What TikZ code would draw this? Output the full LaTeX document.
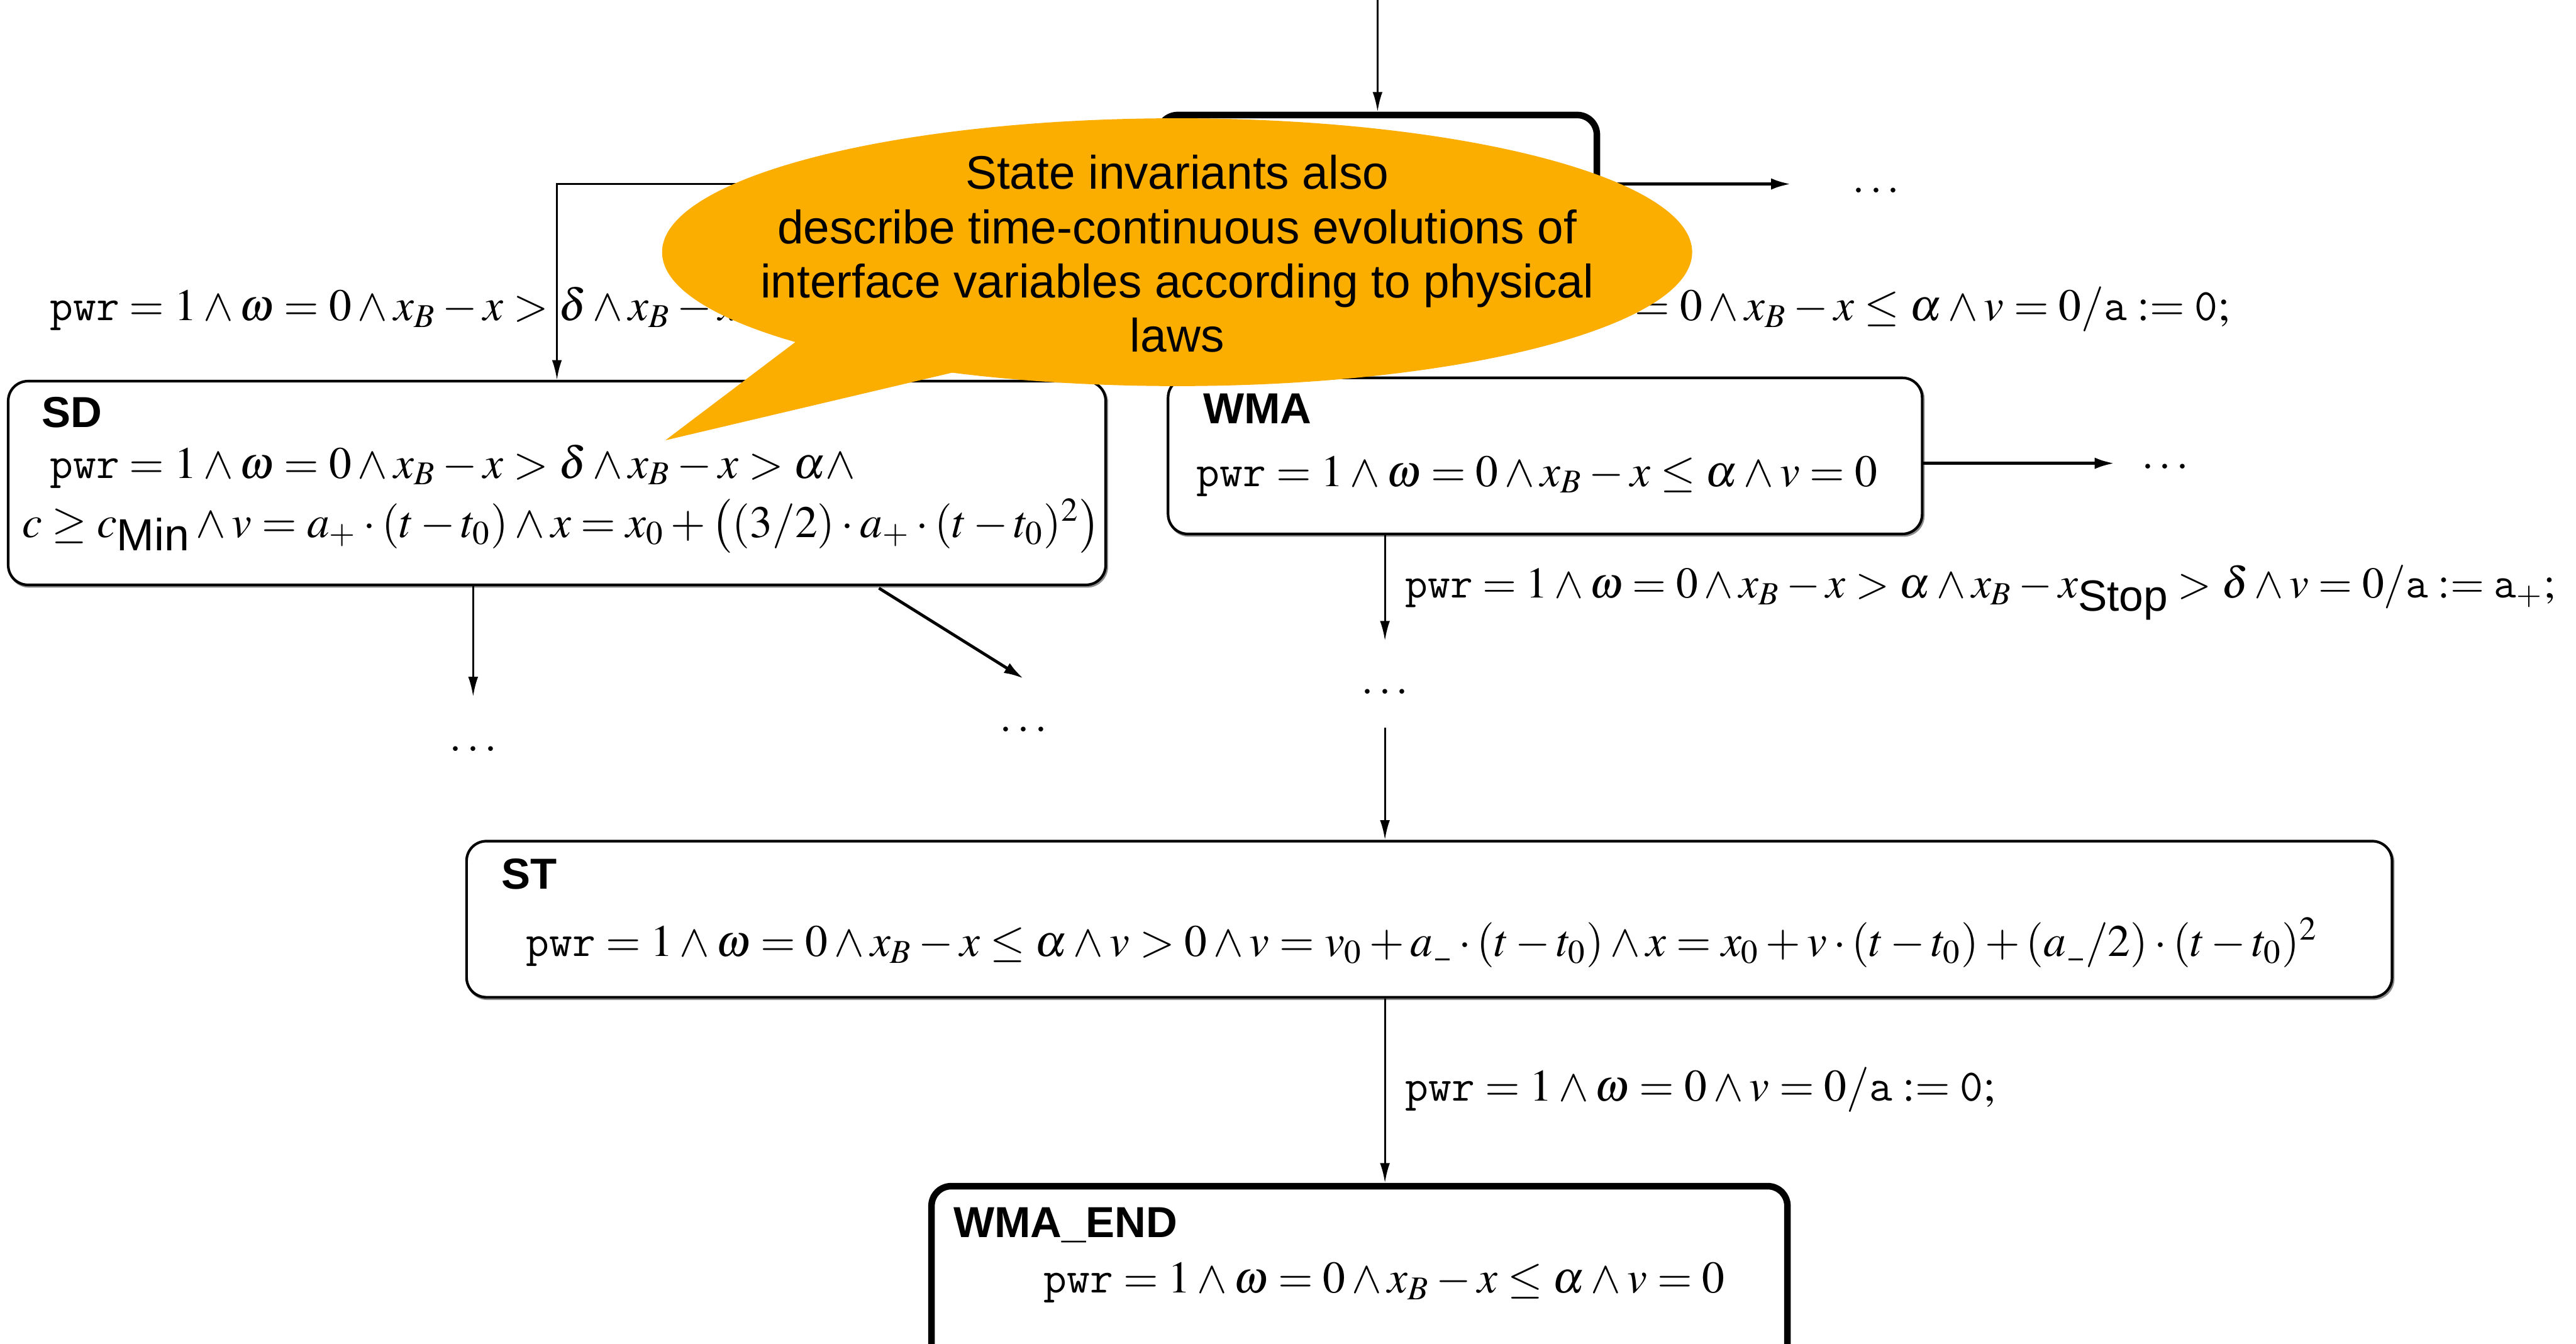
\documentclass[tikz,border=0pt]{standalone}
\usepackage{mathptmx}
\usepackage[no-math]{fontspec}
\setsansfont{Liberation Sans}
\usetikzlibrary{arrows.meta}
\definecolor{noteorange}{RGB}{251,173,0}
% typewriter variable names, sans subscripts and a short low bar
\newcommand\tv[1]{\hbox{\ttfamily #1}}
\newcommand\sfsub[1]{\lower0.3em\hbox{\sffamily #1}}
\newcommand\lowbar{\mkern1mu\rule[-0.1em]{0.32em}{0.05em}\mkern1mu}
\begin{document}
\begin{tikzpicture}[x=0.5pt,y=-0.5pt,
  stbox/.style={draw, line width=0.8pt, rounded corners=6pt, inner sep=0pt, fill=white,
    preaction={draw=black!45, line width=0.8pt, transform canvas={xshift=0.35pt, yshift=-0.45pt}}},
  stthick/.style={stbox, line width=2pt},
  arr/.style={line width=0.6pt, -{Latex[length=6pt,width=3pt]}},
  arrb/.style={line width=0.9pt, -{Latex[length=6pt,width=3.5pt]}},
  ttl/.style={font=\sffamily\bfseries\fontsize{13.2}{15}\selectfont, anchor=base west, inner sep=0pt},
  inv/.style={font=\fontsize{13.7}{16}\selectfont, anchor=base west, inner sep=0pt},
  dotsn/.style={inner sep=0pt, font=\fontsize{13.7}{16}\selectfont},
]
\useasboundingbox (0,0) rectangle (1568,818);

% states
\node[stthick, minimum width=133.5pt, minimum height=45pt] (init) at (838.5,115) {};
\node[stbox, minimum width=334pt, minimum height=62pt] (sd) at (339,294) {};
\node[stbox, minimum width=229.5pt, minimum height=47.5pt] (wma) at (940.5,277.5) {};
\node[stbox, minimum width=586pt, minimum height=47.5pt] (st) at (870,559.5) {};
\node[stthick, minimum width=260.5pt, minimum height=54pt] (wmaend) at (827.5,776) {};

% state names and invariants
\node[ttl] (sdname) at (25,260) {SD};
\node[inv] (sdinv1) at (30,291) {$\tv{pwr} = 1 \wedge \omega = 0 \wedge x_B - x > \delta \wedge x_B - x > \alpha \wedge$};
\node[inv] (sdinv2) at (13,327) {$c \geq c\sfsub{Min} \wedge v = a_{+} \cdot (t - t_0) \wedge x = x_0 + \big((3/2) \cdot a_{+} \cdot (t - t_0)^2\big)$};

\node[ttl] (wmaname) at (732,258) {WMA};
\node[inv] (wmainv) at (728,296) {$\tv{pwr} = 1 \wedge \omega = 0 \wedge x_B - x \leq \alpha \wedge v = 0$};

\node[ttl] (stname) at (305,541) {ST};
\node[inv] (stinv) at (320,582) {$\tv{pwr} = 1 \wedge \omega = 0 \wedge x_B - x \leq \alpha \wedge v > 0 \wedge v = v_0 + a\lowbar \cdot (t - t_0) \wedge x = x_0 + v \cdot (t - t_0) + (a\lowbar/2) \cdot (t - t_0)^2$};

\node[ttl] (endname) at (580,753) {WMA\_END};
\node[inv] (endinv) at (635,787) {$\tv{pwr} = 1 \wedge \omega = 0 \wedge x_B - x \leq \alpha \wedge v = 0$};

% continuation marks
\node[dotsn] (d1) at (1142,116) {$\ldots$};
\node[dotsn] (d2) at (1318,284) {$\ldots$};
\node[dotsn] (d3) at (843,421) {$\ldots$};
\node[dotsn] (d4) at (288,456) {$\ldots$};
\node[dotsn] (d5) at (623,444) {$\ldots$};

% free ends of the transitions
\coordinate (top) at (838.5,0);
\coordinate (e1) at (1090,112);
\coordinate (e2) at (1287,282);
\coordinate (e3) at (843,390);
\coordinate (e4) at (843,443);
\coordinate (e5) at (288,424);
\coordinate (e6s) at (535,358);
\coordinate (e6) at (623,413);

% transitions
\draw[arr] (top) -- (init.north);
\draw[arrb] (init.east |- e1) -- (e1);
\draw[arr] (init.west |- e1) -| (sd.north);
\draw[arr] (init.south) -- (init.south |- wma.north);
\draw[arrb] (wma.east |- e2) -- (e2);
\draw[arr] (wma.south -| e3) -- (e3);
\draw[arr] (e4) -- (e4 |- st.north);
\draw[arr] (sd.south -| e5) -- (e5);
\draw[arrb] (e6s) -- (e6);
\draw[arr] (st.south -| e3) -- (wmaend.north -| e3);

% transition labels
\node[inv] (l1) at (30,195) {$\tv{pwr} = 1 \wedge \omega = 0 \wedge x_B - x > \delta \wedge x_B - x$};
\node[inv, anchor=base east] (l2) at (1358,195) {$\tv{pwr} = 1 \wedge \omega = 0 \wedge x_B - x \leq \alpha \wedge v = 0/\tv{a} := \tv{0};$};
\node[inv, font=\fontsize{13.3}{16}\selectfont] (l3) at (855,364) {$\tv{pwr} = 1 \wedge \omega = 0 \wedge x_B - x > \alpha \wedge x_B - x\sfsub{Stop} > \delta \wedge v = 0/\tv{a} := \tv{a}_{+};$};
\node[inv] (l4) at (855,670) {$\tv{pwr} = 1 \wedge \omega = 0 \wedge v = 0/\tv{a} := \tv{0};$};

% speech bubble
\fill[noteorange] (716.5,153.5) ellipse [x radius=156.75pt, y radius=40.75pt];
\fill[noteorange] (495,200) -- (405,268) -- (600,222) -- cycle;
\node[font=\sffamily\fontsize{14.3}{16.5}\selectfont, align=center, inner sep=0pt] (note) at (716.5,154.5)
  {State invariants also\\describe time-continuous evolutions of\\interface variables according to physical\\laws};
\end{tikzpicture}
\end{document}
